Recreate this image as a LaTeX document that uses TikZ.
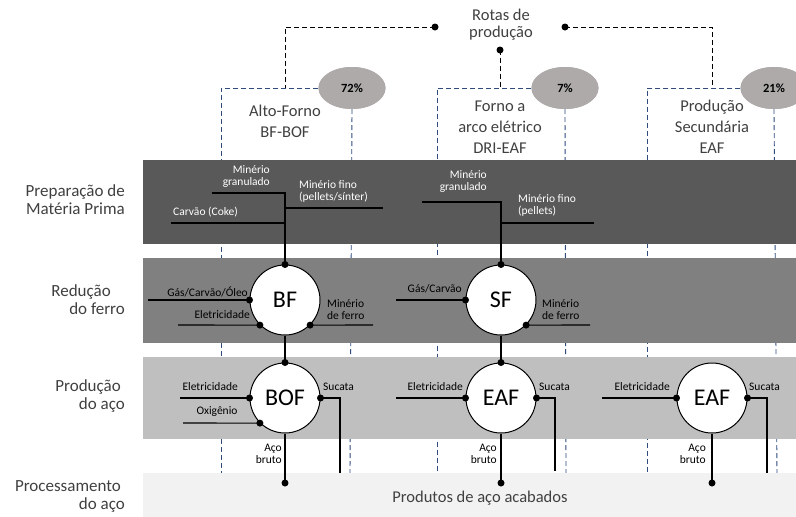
\documentclass[tikz,border=0pt]{standalone}
\usepackage{fontspec}
\setmainfont{Carlito}
\usetikzlibrary{shapes.geometric}

\definecolor{bandA}{HTML}{595959}
\definecolor{bandB}{HTML}{808080}
\definecolor{bandC}{HTML}{BFBFBF}
\definecolor{bandD}{HTML}{F2F2F2}
\definecolor{routeblue}{HTML}{2F4B7C}
\definecolor{pctgray}{HTML}{AEAAAA}
\definecolor{txtgray}{HTML}{404040}

\tikzset{
    furnace/.style={circle,draw=black,line width=1pt,fill=white,minimum size=70pt,inner sep=0pt,font=\fontsize{24}{24}\selectfont},
    lbl/.style={inner sep=0pt,font=\fontsize{11.5}{12}\selectfont},
    stage/.style={inner sep=0pt,align=right,anchor=east,text=txtgray,font=\fontsize{17}{18}\selectfont},
    route/.style={inner sep=0pt,align=center,text=txtgray,font=\fontsize{16.5}{21}\selectfont},
    share/.style={ellipse,fill=pctgray,minimum width=67pt,minimum height=42pt,inner sep=0pt,font=\bfseries\fontsize{12.5}{13}\selectfont},
    routeline/.style={routeblue,line width=0.9pt,dash pattern=on 5pt off 3pt},
    link/.style={black,line width=0.9pt,dash pattern=on 5pt off 3pt},
    feed/.style={black,line width=1.1pt}
}

\begin{document}
\begin{tikzpicture}[x=1pt,y=-1pt]
    \useasboundingbox (0,0) rectangle (796,517);

    %Production routes and their shares
    \node[route,font=\fontsize{16.5}{17}\selectfont] (rotas) at (501,25) {Rotas de\\produção};
    \node[route] (bfbof) at (285,121) {Alto-Forno\\BF-BOF};
    \node[route] (drieaf) at (500,127) {Forno a\\arco elétrico\\DRI-EAF};
    \node[route] (seceaf) at (712,127) {Produção\\Secundária\\EAF};
    \coordinate (jl) at (435,27);
    \coordinate (jr) at (565,27);
    \coordinate (jb) at (500,50);
    \coordinate (r1) at (285,88);
    \coordinate (r2) at (500,88);
    \coordinate (r3) at (712,88);
    \draw[link] (jl) -| (r1);
    \draw[link] (jr) -| (r3);
    \draw[link] (jb) -- (r2);
    \foreach \p in {jl,jr,jb} \fill (\p) circle (3.5pt);

    \node[share] (p72) at (352,88) {};
    \node[share] (p7) at (565,88) {};
    \node[share] (p21) at (774,88) {};
    \draw[routeline] (p72.west) -- (221,88) -- (221,473);
    \draw[routeline] (p72.south) -- (350,473);
    \draw[routeline] (p7.west) -- (437,88) -- (437,473);
    \draw[routeline] (p7.south) -- (566,473);
    \draw[routeline] (p21.west) -- (647,88) -- (647,473);
    \draw[routeline] (p21.south) -- (777,473);
    \node[share] at (p72) {72\%};
    \node[share] at (p7) {7\%};
    \node[share] at (p21) {21\%};

    %Bands
    \fill[bandA] (143,160) rectangle (796,244);
    \fill[bandB] (143,258) rectangle (796,343);
    \fill[bandC] (143,357) rectangle (796,439);
    \fill[bandD] (143,473) rectangle (796,517);

    \node[stage] (prep) at (125,200) {Preparação de\\Matéria Prima};
    \node[stage] (red) at (125,300) {Redução\hspace*{14pt}\\do ferro};
    \node[stage] (prod) at (125,396) {Produção\hspace*{4pt}\\do aço};
    \node[stage] (proc) at (125,496) {Processamento\hspace*{4pt}\\do aço};
    \node[route] (acab) at (480,498) {Produtos de aço acabados};

    %Furnaces
    \node[furnace] (bf) at (285,300) {BF};
    \node[furnace] (sf) at (501,300) {SF};
    \node[furnace] (bof) at (285,398) {BOF};
    \node[furnace] (eafa) at (501,398) {EAF};
    \node[furnace] (eafb) at (712,398) {EAF};

    %BF-BOF route
    \draw[feed] (bf.north) |- (212,193);
    \draw[feed] (171,223) -- (285,223);
    \draw[feed] (285,208) -- (383,208);
    \node[lbl,text=white,align=right,anchor=east] (bfgran) at (270,177) {Minério\\granulado};
    \node[lbl,text=white,align=left,anchor=west] (bffino) at (299,191) {Minério fino\\(pellets/sínter)};
    \node[lbl,text=white,anchor=west] (bfcoke) at (173,212) {Carvão (Coke)};
    \draw[feed] (148,300) -- (bf.west);
    \draw[feed] (178,325) -- (bf.225);
    \draw[feed] (bf.-45) -- (373,325);
    \node[lbl,anchor=east] (bfgas) at (248,292) {Gás/Carvão/Óleo};
    \node[lbl,anchor=east] (bfele) at (250,315) {Eletricidade};
    \node[lbl,align=left,anchor=west] (bfmin) at (327,310) {Minério\\de ferro};
    \draw[feed] (bf.south) -- (bof.north);
    \coordinate (outa) at (285,483);
    \draw[feed] (180,398) -- (bof.west);
    \draw[feed] (183,423) -- (bof.225);
    \draw[feed] (bof.east) -| (340,473);
    \draw[feed] (bof.south) -- (outa);
    \node[lbl,anchor=east] (bofele) at (238,387) {Eletricidade};
    \node[lbl] (bofoxi) at (217,412) {Oxigênio};
    \node[lbl,anchor=west] (bofsuc) at (323,387) {Sucata};
    \node[lbl,align=right,anchor=east] (bofaco) at (282,454) {Aço\\bruto};

    %DRI-EAF route
    \draw[feed] (sf.north) |- (422,202);
    \draw[feed] (501,223) -- (594,223);
    \node[lbl,text=white,align=right,anchor=east] (sfgran) at (487,182) {Minério\\granulado};
    \node[lbl,text=white,align=left,anchor=west] (sffino) at (518,205) {Minério fino\\(pellets)};
    \draw[feed] (396,300) -- (sf.west);
    \draw[feed] (sf.-45) -- (590,325);
    \node[lbl,anchor=east] (sfgas) at (462,289) {Gás/Carvão};
    \node[lbl,align=left,anchor=west] (sfmin) at (542,310) {Minério\\de ferro};
    \draw[feed] (sf.south) -- (eafa.north);
    \coordinate (outb) at (501,483);
    \draw[feed] (396,398) -- (eafa.west);
    \draw[feed] (eafa.east) -| (555,471);
    \draw[feed] (eafa.south) -- (outb);
    \node[lbl,anchor=east] (eafaele) at (463,387) {Eletricidade};
    \node[lbl,anchor=west] (eafasuc) at (539,387) {Sucata};
    \node[lbl,align=right,anchor=east] (eafaaco) at (497,454) {Aço\\bruto};

    %Secondary route
    \coordinate (outc) at (712,483);
    \draw[feed] (602,398) -- (eafb.west);
    \draw[feed] (eafb.east) -| (767,473);
    \draw[feed] (eafb.south) -- (outc);
    \node[lbl,anchor=east] (eafbele) at (670,387) {Eletricidade};
    \node[lbl,anchor=west] (eafbsuc) at (749,387) {Sucata};
    \node[lbl,align=right,anchor=east] (eafbaco) at (706,454) {Aço\\bruto};

    \foreach \p in {bf.north,bf.west,bf.225,bf.-45,sf.north,sf.west,sf.-45,
        bof.north,bof.west,bof.225,bof.east,eafa.north,eafa.west,eafa.east,
        eafb.west,eafb.east,outa,outb,outc}
        \fill (\p) circle (3.5pt);
\end{tikzpicture}
\end{document}
